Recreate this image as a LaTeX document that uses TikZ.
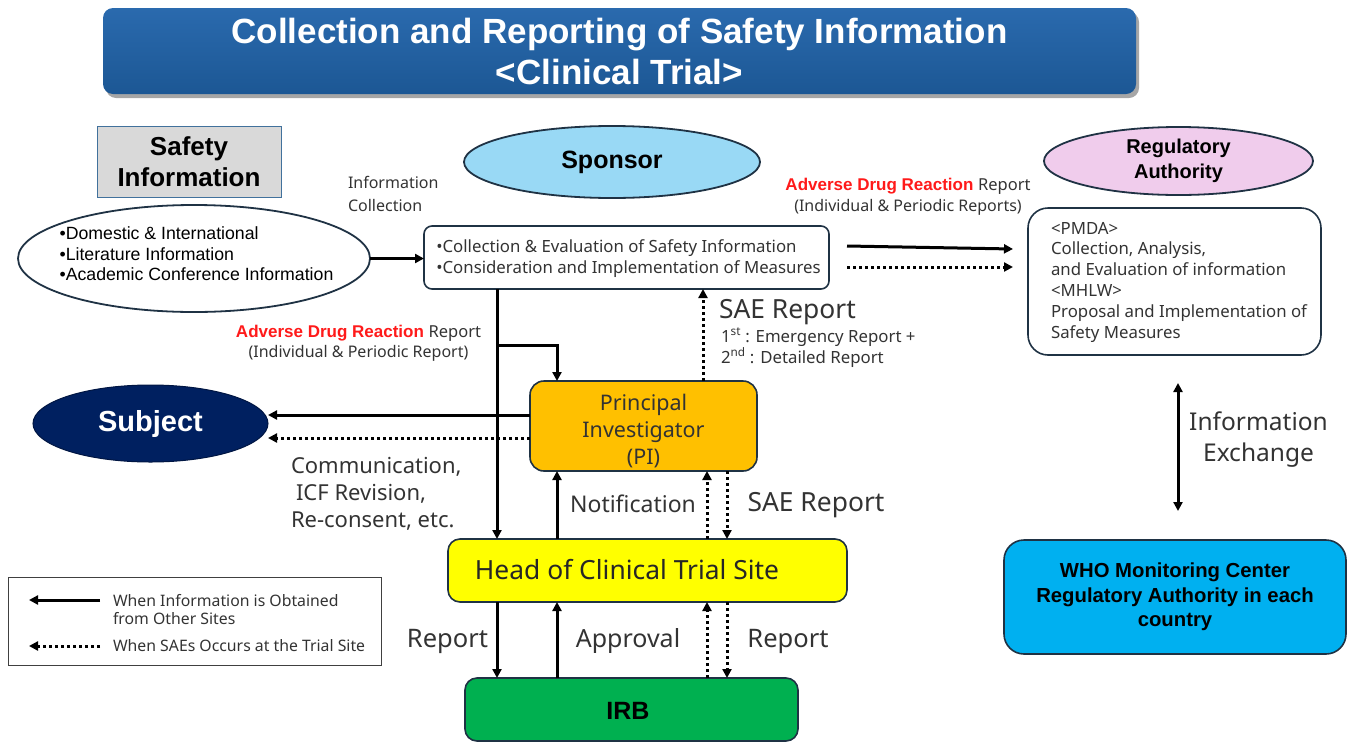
\documentclass[tikz,border=0pt]{standalone}
\usepackage{fontspec}
\setmainfont{Liberation Sans}
\newfontfamily\gfont{Noto Sans}
\usetikzlibrary{arrows.meta,shapes.geometric,shadows}
\definecolor{bord}{HTML}{1F3244}
\definecolor{gtxt}{HTML}{333333}
\definecolor{sibord}{HTML}{41719C}
\definecolor{sifill}{HTML}{D9D9D9}
\definecolor{spfill}{HTML}{99D9F5}
\definecolor{rafill}{HTML}{F0CCEC}
\definecolor{whofill}{HTML}{00B0F0}
\definecolor{subfill}{HTML}{002060}
\definecolor{pifill}{HTML}{FFC000}
\definecolor{headfill}{HTML}{FFFF00}
\definecolor{irbfill}{HTML}{00B050}
\definecolor{titletop}{HTML}{2A6AAE}
\definecolor{titlebot}{HTML}{1C5794}
\definecolor{adr}{HTML}{FF1A1A}
\newcommand\fsz[2]{\fontsize{#1}{#2}\selectfont}
\begin{document}
\begin{tikzpicture}[x=1pt,y=-1pt,
  every node/.style={inner sep=0pt, outer sep=0pt},
  boxst/.style={draw=bord, line width=1.6pt, rounded corners=#1},
  boxst/.default=10pt,
  ellst/.style={ellipse, draw=bord, line width=1.8pt},
  glab/.style={text=gtxt, font=#1},
  sarrow/.style={line width=3pt, -{Triangle[length=9pt,width=9pt]}},
  darrow/.style={line width=3pt, dash pattern=on 3pt off 3pt, -{Triangle[length=9pt,width=9pt]}},
  biarrow/.style={line width=3pt, {Triangle[length=9pt,width=9pt]}-{Triangle[length=9pt,width=9pt]}}
]
\useasboundingbox (0,0) rectangle (1352,742);

% title
\node[rounded corners=10pt, top color=titletop, bottom color=titlebot, draw=none,
      minimum width=1033pt, minimum height=86pt,
      drop shadow={shadow xshift=3pt, shadow yshift=-4pt, fill=black, opacity=.35},
      text=white, align=center, font=\bfseries\fsz{35}{41}] (title) at (619.5,51)
  {Collection and Reporting of Safety Information\\<Clinical Trial>};

% safety information
\node[draw=sibord, line width=1pt, fill=sifill, minimum width=184pt, minimum height=71pt,
      align=center, font=\bfseries\fsz{26}{31}] (si) at (189,161.5) {Safety\\Information};
\node[ellst, fill=white, minimum width=352pt, minimum height=107pt] (safe) at (194,258.5) {};
\node[align=left, font=\fsz{17.7}{20.5}] (safetxt) at (196.5,254)
  {•Domestic \& International\\•Literature Information\\•Academic Conference Information};
\node[glab={\gfont\fsz{16}{23}}, anchor=west, align=left] (icol) at (348,193.5) {Information\\Collection};

% sponsor
\node[ellst, fill=spfill, minimum width=296pt, minimum height=72pt, font=\bfseries\fsz{25}{30}] (sp) at (612,162) {Sponsor};
\node[boxst=8pt, fill=white, minimum width=405pt, minimum height=63pt] (spbox) at (626.5,257.5) {};
\node[align=left, text=gtxt, font=\gfont\fsz{16.8}{21}] (sptxt) at (628.5,259)
  {•Collection \& Evaluation of Safety Information\\•Consideration and Implementation of Measures};

% regulatory authority
\node[ellst, fill=rafill, minimum width=269pt, minimum height=68pt, align=center,
      font=\bfseries\fsz{20}{25}] (ra) at (1178.5,161) {Regulatory\\Authority};
\node[align=center, font=\fsz{16.5}{21}] (adr1) at (908,196.5)
  {{\bfseries\fsz{17}{21}\color{adr}Adverse Drug Reaction} {\gfont\color{gtxt}Report}\\
   {\gfont\fsz{16}{21}\color{gtxt}(Individual \& Periodic Reports)}};
\node[boxst=20pt, fill=white, minimum width=293pt, minimum height=147pt] (regbox) at (1174.5,281.5) {};
\node[align=left, text=gtxt, font=\gfont\fsz{16.8}{20.8}] (regtxt) at (1179,282)
  {<PMDA>\\Collection, Analysis,\\and Evaluation of information\\<MHLW>\\Proposal and Implementation of\\Safety Measures};

% WHO
\node[boxst=20pt, fill=whofill, minimum width=342pt, minimum height=114pt, align=center,
      font=\bfseries\fsz{20.3}{24.5}] (who) at (1175,597)
  {WHO Monitoring Center\\Regulatory Authority in each\\country};
\node[glab={\gfont\fsz{24.5}{31}}, align=center] (iex) at (1258.5,439.5) {Information\\Exchange};

% subject, PI, head, IRB
\node[ellipse, fill=subfill, draw=subfill!70!black, line width=1pt, minimum width=235pt, minimum height=77pt,
      text=white, font=\bfseries\fsz{29}{34}] (subj) at (150.5,423.5) {Subject};
\node[boxst=14pt, fill=pifill, minimum width=227pt, minimum height=90pt] (pi) at (643.5,426) {};
\node[text=gtxt, align=center, font=\gfont\fsz{21.5}{27}] (pitxt) at (643.5,431) {Principal\\Investigator\\(PI)};
\node[boxst=12pt, fill=headfill, minimum width=399pt, minimum height=63pt] (head) at (647.5,570.5) {};
\node[text=black!85, font=\gfont\fsz{26.4}{30}] (headtxt) at (627,570) {Head of Clinical Trial Site};
\node[boxst=12pt, fill=irbfill, minimum width=333pt, minimum height=63pt] (irb) at (631.5,709.5) {};
\node[font=\bfseries\fsz{25}{30}] (irbtxt) at (628,711) {IRB};

% labels
\node[align=center, font=\fsz{16.5}{20}] (adr2) at (358.5,343)
  {{\bfseries\fsz{17}{20}\color{adr}Adverse Drug Reaction} {\gfont\color{gtxt}Report}\\
   {\gfont\fsz{16}{20}\color{gtxt}(Individual \& Periodic Report)}};
\node[glab={\gfont\fsz{26.4}{30}}, anchor=west] (sae1) at (719,312) {SAE Report};
\node[glab={\gfont\fsz{16.8}{21}}, anchor=west, align=left] (sae1b) at (721,347.5)
  {1\textsuperscript{st} : Emergency Report +\\2\textsuperscript{nd} : Detailed Report};
\node[glab={\gfont\fsz{22}{27}}, anchor=west, align=left] (comm) at (291,494)
  {Communication,\\\hspace{5pt}ICF Revision,\\Re-consent, etc.};
\node[glab={\gfont\fsz{23}{28}}] (notif) at (633,504) {Notification};
\node[glab={\gfont\fsz{26.4}{28}}] (sae2) at (816,505) {SAE Report};
\node[glab={\gfont\fsz{25.5}{28}}] (rep1) at (447.5,641) {Report};
\node[glab={\gfont\fsz{25}{28}}] (appr) at (628,641) {Approval};
\node[glab={\gfont\fsz{25.5}{28}}] (rep2) at (788,641) {Report};

% legend
\node[draw=black!75, line width=1pt, minimum width=373pt, minimum height=88pt] (leg) at (194.5,621) {};
\node[glab={\gfont\fsz{15.8}{18}}, anchor=west, align=left] (leg1) at (113,610)
  {When Information is Obtained\\from Other Sites};
\node[glab={\gfont\fsz{15.8}{18}}, anchor=west] (leg2) at (113,646) {When SAEs Occurs at the Trial Site};
\coordinate (lg1) at (100,600); \coordinate (lg2) at (29,600);
\coordinate (lg3) at (100,646); \coordinate (lg4) at (29,646);
\draw[sarrow] (lg1) -- (lg2);
\draw[darrow] (lg3) -- (lg4);

% x positions
\coordinate (xa) at (497,0);
\coordinate (xb) at (557,0);
\coordinate (xc) at (703,0);
\coordinate (xd) at (707,0);
\coordinate (xe) at (727,0);
\coordinate (xw) at (1178,0);
\coordinate (br1) at (497,345);

% connectors
\draw[sarrow] (safe.east) -- (safe.east -| spbox.west);
\draw[sarrow] ([shift={(18,-11.5)}]spbox.east) -- ([shift={(-15,-32.5)}]regbox.west);
\draw[darrow] ([shift={(18,9.5)}]spbox.east) -- ([shift={(-15,-14.5)}]regbox.west);
\draw[biarrow, shorten <=28pt, shorten >=29pt] (regbox.south -| xw) -- (who.north -| xw);

\draw[sarrow] (spbox.south -| xa) -- (head.north -| xa);
\draw[sarrow] (br1) -| (pi.north -| xb);
\draw[darrow] (pi.north -| xc) -- (spbox.south -| xc);
\draw[sarrow] ([yshift=11pt]pi.west) -- ([yshift=11pt]pi.west -| subj.east);
\draw[darrow] ([yshift=-12pt]pi.west) -- ([yshift=-12pt]pi.west -| subj.east);

\draw[sarrow] (head.north -| xb) -- (pi.south -| xb);
\draw[darrow] (head.north -| xd) -- (pi.south -| xd);
\draw[darrow] (pi.south -| xe) -- (head.north -| xe);

\draw[sarrow] (head.south -| xa) -- (irb.north -| xa);
\draw[sarrow] (irb.north -| xb) -- (head.south -| xb);
\draw[darrow] (irb.north -| xd) -- (head.south -| xd);
\draw[darrow] (head.south -| xe) -- (irb.north -| xe);
\end{tikzpicture}
\end{document}
